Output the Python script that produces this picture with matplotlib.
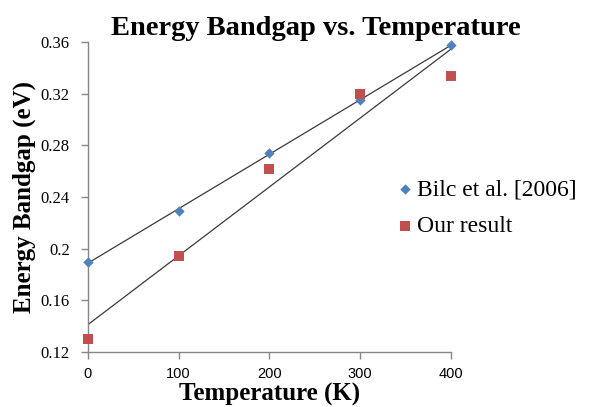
import numpy as np
import matplotlib
matplotlib.use('Agg')
import matplotlib.pyplot as plt

# Datos
temperatura = [0, 100, 200, 300, 400]
bilc = [0.1897, 0.2294, 0.2737, 0.3150, 0.3576]
nuestro = [0.1298, 0.1945, 0.2614, 0.3195, 0.3337]

azul = '#4F81BD'
rojo = '#C0504D'
serif = ['Liberation Serif', 'DejaVu Serif']

fig = plt.figure(figsize=(5.94, 4.07), dpi=100)
ax = fig.add_axes([0.148, 0.135, 0.611, 0.762])

# Líneas de tendencia lineales
xs = np.array([0, 400])
for ys in (bilc, nuestro):
    m, b = np.polyfit(temperatura, ys, 1)
    ax.plot(xs, m * xs + b, color='#3a3a3a', lw=0.9, zorder=2)

ax.scatter(temperatura, bilc, marker='D', s=28, color=azul, label='Bilc et al. [2006]',
           zorder=3, clip_on=False, linewidths=0)
ax.scatter(temperatura, nuestro, marker='s', s=60, color=rojo, label='Our result',
           zorder=3, clip_on=False, linewidths=0)

ax.set_xlim(0, 400)
ax.set_ylim(0.12, 0.36)
ax.set_xticks([0, 100, 200, 300, 400])
ax.set_yticks([0.12, 0.16, 0.2, 0.24, 0.28, 0.32, 0.36])
ax.set_yticklabels(['0.12', '0.16', '0.2', '0.24', '0.28', '0.32', '0.36'])

for s in ('top', 'right'):
    ax.spines[s].set_visible(False)
for s in ('left', 'bottom'):
    ax.spines[s].set_color('#868686')
    ax.spines[s].set_linewidth(1)
ax.tick_params(axis='both', direction='out', color='#868686', length=5, width=1)
ax.tick_params(axis='x', labelsize=10.5, pad=6)
ax.tick_params(axis='y', labelsize=12, pad=8)
for lbl in ax.get_xticklabels():
    lbl.set_family(['Liberation Sans', 'DejaVu Sans'])
for lbl in ax.get_yticklabels():
    lbl.set_family(serif)

fig.text(0.532, 0.93, 'Energy Bandgap vs. Temperature', family=serif, fontweight='bold',
         fontsize=20.5, ha='center', va='center')
ax.set_xlabel('Temperature (K)', family=serif, fontweight='bold', fontsize=18, labelpad=1)
ax.set_ylabel('Energy Bandgap (eV)', family=serif, fontweight='bold', fontsize=18, labelpad=3)

ax.legend(loc='center left', bbox_to_anchor=(0.815, 0.465), frameon=False,
          prop={'family': serif, 'size': 17}, handletextpad=0.0, labelspacing=0.65,
          markerscale=1.0, borderaxespad=0, handlelength=1.0)

fig.savefig('out.png', dpi=100)
